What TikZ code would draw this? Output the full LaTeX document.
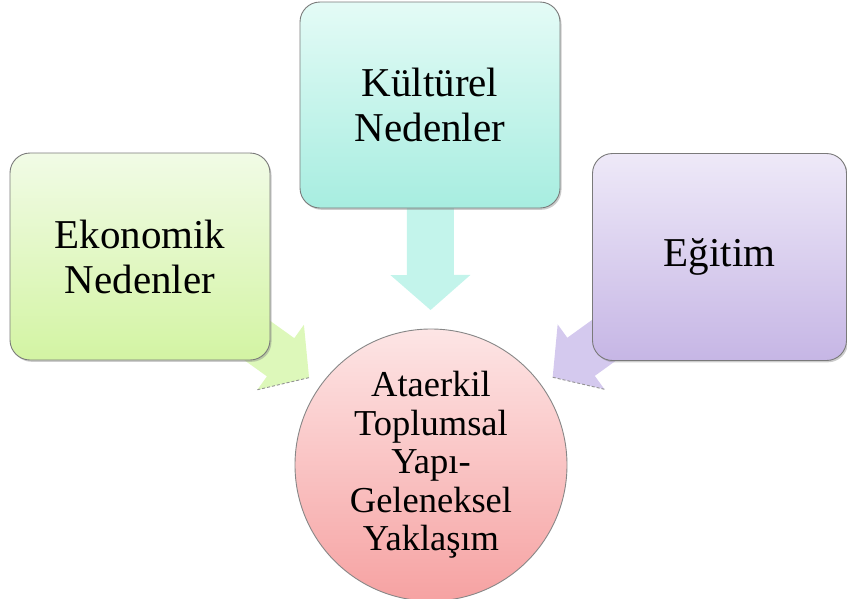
\documentclass[tikz,border=0pt]{standalone}
\usepackage{fontspec}
\setmainfont{Liberation Serif}
\usetikzlibrary{calc,shadows}
\pgfdeclarelayer{bg}
\pgfsetlayers{bg,main}
\definecolor{gTop}{HTML}{F1FBE6}
\definecolor{gBot}{HTML}{D3F4A3}
\definecolor{cTop}{HTML}{E4FBF6}
\definecolor{cBot}{HTML}{A7EDE0}
\definecolor{pTop}{HTML}{EEE9F8}
\definecolor{pBot}{HTML}{C6B6E5}
\definecolor{rTop}{HTML}{FDE5E5}
\definecolor{rBot}{HTML}{F6A2A2}
\definecolor{aGreen}{HTML}{DDF8BA}
\definecolor{aCyan}{HTML}{C3F4EB}
\definecolor{aPurple}{HTML}{D4C9EE}
\definecolor{edgegray}{HTML}{7A7A7A}
\begin{document}
\begin{tikzpicture}[x=1pt,y=-1pt,
  boxnode/.style={rounded corners=20pt, draw=edgegray, line width=0.9pt,
    align=center, inner sep=0pt, font=\fontsize{41}{45}\selectfont,
    drop shadow={opacity=0.4, shadow xshift=1.5pt, shadow yshift=-1.8pt}},
  circnode/.style={circle, draw=edgegray!90, line width=0.9pt, minimum size=272pt,
    inner sep=0pt, align=center, font=\fontsize{36.5}{38.5}\selectfont},
  shadowedge/.style={draw=gray!85, line width=0.9pt, dash pattern=on 3pt off 2pt}]
\useasboundingbox (0,0) rectangle (847,598);
\node[boxnode, minimum width=260pt, minimum height=207pt, top color=gTop, bottom color=gBot]
  (E) at (140,256.5) {Ekonomik\\Nedenler};
\node[boxnode, minimum width=260pt, minimum height=206pt, top color=cTop, bottom color=cBot]
  (K) at (430,105) {Kültürel\\Nedenler};
\node[boxnode, minimum width=254pt, minimum height=207pt, top color=pTop, bottom color=pBot]
  (G) at (719.5,257) {Eğitim};
\node[circnode, top color=rTop, bottom color=rBot] (C) at (431,465)
  {Ataerkil\\Toplumsal\\Yapı-\\Geleneksel\\Yaklaşım};
\begin{pgfonlayer}{bg}
% down arrow
\coordinate (kt) at ($(C)!155pt!(K)$);
\coordinate (kb) at ($(kt)!35pt!(K)$);
\coordinate (ke) at ($(kt)!120pt!(K)$);
\fill[aCyan] ($(ke)!23.5pt!90:(kt)$) -- ($(kb)!23.5pt!90:(kt)$) -- ($(kb)!40pt!90:(kt)$)
  -- (kt) -- ($(kb)!40pt!-90:(kt)$) -- ($(kb)!23.5pt!-90:(kt)$) -- ($(ke)!23.5pt!-90:(kt)$) -- cycle;
% left arrow
\coordinate (et) at ($(C)!150pt!(E)$);
\coordinate (eb) at ($(et)!35pt!(E)$);
\coordinate (ee) at ($(et)!110pt!(E)$);
\fill[aGreen] ($(ee)!23.5pt!90:(et)$) -- ($(eb)!23.5pt!90:(et)$) -- ($(eb)!40pt!90:(et)$)
  -- (et) -- ($(eb)!40pt!-90:(et)$) -- ($(eb)!23.5pt!-90:(et)$) -- ($(ee)!23.5pt!-90:(et)$) -- cycle;
\draw[shadowedge] ($(eb)!40pt!-90:(et)$) -- (et);
% right arrow
\coordinate (gt) at ($(C)!150pt!(G)$);
\coordinate (gb) at ($(gt)!35pt!(G)$);
\coordinate (ge) at ($(gt)!110pt!(G)$);
\fill[aPurple] ($(ge)!23.5pt!90:(gt)$) -- ($(gb)!23.5pt!90:(gt)$) -- ($(gb)!40pt!90:(gt)$)
  -- (gt) -- ($(gb)!40pt!-90:(gt)$) -- ($(gb)!23.5pt!-90:(gt)$) -- ($(ge)!23.5pt!-90:(gt)$) -- cycle;
\draw[shadowedge] ($(gb)!40pt!90:(gt)$) -- (gt);
\end{pgfonlayer}
\end{tikzpicture}
\end{document}
